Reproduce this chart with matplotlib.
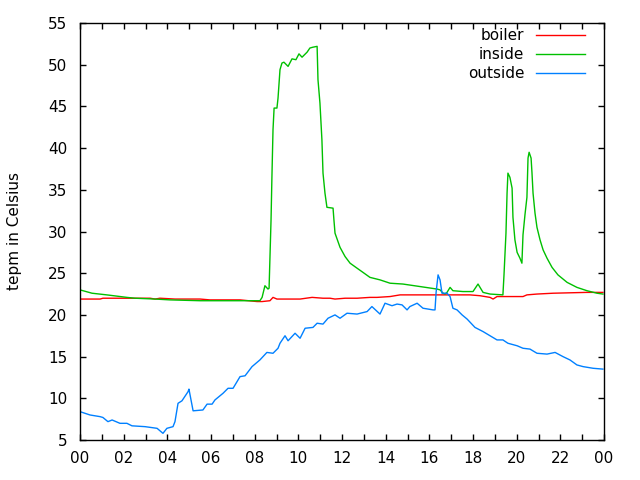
import matplotlib
matplotlib.use("Agg")
import matplotlib.pyplot as plt
from matplotlib.ticker import MultipleLocator

plt.rcParams['font.family'] = ['DejaVu Sans']

# time in hours of the day
outside_t = [0.00, 0.46, 0.92, 1.05, 1.28, 1.47, 1.83, 2.15, 2.38, 2.98, 3.53, 3.80, 3.98, 4.26, 4.35,
             4.49, 4.67, 4.95, 4.99, 5.18, 5.63, 5.82, 6.05, 6.18, 6.55, 6.78, 7.01, 7.33, 7.56, 7.88,
             8.24, 8.56, 8.84, 9.07, 9.16, 9.39, 9.53, 9.85, 10.08, 10.31, 10.67, 10.86, 11.13, 11.36,
             11.68, 11.91, 12.23, 12.69, 13.15, 13.37, 13.74, 13.97, 14.29, 14.52, 14.75, 14.98, 15.11,
             15.44, 15.71, 16.17, 16.26, 16.31, 16.40, 16.49, 16.58, 16.81, 16.95, 17.08, 17.27, 17.50,
             17.73, 18.09, 18.46, 18.78, 19.10, 19.37, 19.60, 20.02, 20.29, 20.61, 20.93, 21.39, 21.76,
             22.12, 22.44, 22.76, 23.04, 23.50, 23.95]
outside_v = [8.4, 8.0, 7.8, 7.7, 7.2, 7.4, 7.0, 7.0, 6.7, 6.6, 6.4, 5.8, 6.4, 6.6, 7.2,
             9.4, 9.7, 10.8, 11.1, 8.5, 8.6, 9.3, 9.3, 9.8, 10.6, 11.2, 11.2, 12.6, 12.7, 13.8,
             14.6, 15.5, 15.4, 16.0, 16.6, 17.5, 16.9, 17.8, 17.2, 18.4, 18.5, 19.0, 18.9, 19.6,
             20.0, 19.6, 20.2, 20.1, 20.4, 21.0, 20.1, 21.4, 21.1, 21.3, 21.2, 20.6, 21.0,
             21.4, 20.8, 20.6, 20.6, 22.7, 24.8, 24.2, 22.6, 22.6, 22.2, 20.8, 20.6, 20.0,
             19.5, 18.5, 18.0, 17.5, 17.0, 17.0, 16.6, 16.3, 16.0, 15.9, 15.4, 15.3, 15.5,
             15.0, 14.6, 14.0, 13.8, 13.6, 13.5]

inside_t = [0.00, 0.55, 1.23, 2.15, 2.52, 3.44, 4.12, 5.50, 8.24, 8.34, 8.47, 8.61, 8.66, 8.75, 8.79,
            8.84, 8.89, 9.02, 9.07, 9.16, 9.25, 9.34, 9.53, 9.71, 9.89, 10.03, 10.17, 10.40, 10.53,
            10.67, 10.86, 10.90, 10.99, 11.08, 11.13, 11.22, 11.31, 11.59, 11.63, 11.68, 11.91, 12.14,
            12.37, 12.69, 12.96, 13.28, 13.74, 14.20, 14.79, 15.57, 16.35, 16.49, 16.63, 16.72, 16.81,
            16.95, 17.08, 17.54, 18.00, 18.23, 18.46, 18.78, 19.37, 19.42, 19.51, 19.56, 19.60, 19.69,
            19.79, 19.83, 19.92, 20.02, 20.15, 20.24, 20.29, 20.38, 20.47, 20.52, 20.57, 20.66, 20.70,
            20.75, 20.84, 20.93, 21.07, 21.21, 21.39, 21.62, 21.89, 22.31, 22.76, 23.22, 23.68, 23.95]
inside_v = [23.0, 22.6, 22.4, 22.1, 22.0, 21.9, 21.8, 21.7, 21.7, 22.1, 23.5, 23.1, 23.2, 31.4, 36.5,
            42.2, 44.8, 44.8, 46.0, 49.4, 50.2, 50.3, 49.8, 50.7, 50.6, 51.3, 50.9, 51.5, 52.0,
            52.1, 52.2, 48.2, 45.4, 41.0, 37.0, 34.6, 32.9, 32.8, 31.4, 29.8, 28.1, 27.0,
            26.2, 25.6, 25.1, 24.5, 24.2, 23.8, 23.7, 23.4, 23.1, 23.0, 22.6, 22.5, 22.7,
            23.3, 22.9, 22.8, 22.8, 23.7, 22.7, 22.5, 22.4, 24.8, 29.8, 34.6, 37.0, 36.5,
            35.2, 31.7, 29.0, 27.5, 26.8, 26.2, 29.6, 32.0, 34.1, 38.8, 39.5, 38.8, 37.1,
            34.6, 32.2, 30.5, 29.0, 27.8, 26.8, 25.7, 24.8, 23.9, 23.3, 22.9, 22.6, 22.5]

boiler_t = [0.00, 0.92, 1.05, 3.21, 3.44, 3.66, 4.35, 5.50, 5.95, 7.33, 8.11, 8.34, 8.70, 8.84, 9.02,
            10.08, 10.63, 11.13, 11.45, 11.68, 12.14, 12.69, 13.28, 13.60, 14.20, 14.66, 15.57, 16.63,
            17.86, 18.32, 18.78, 18.92, 19.10, 19.83, 20.29, 20.47, 20.93, 21.67, 23.22, 23.95]
boiler_v = [21.9, 21.9, 22.0, 22.0, 21.9, 22.0, 21.9, 21.9, 21.8, 21.8, 21.6, 21.6, 21.7, 22.1, 21.9,
            21.9, 22.1, 22.0, 22.0, 21.9, 22.0, 22.0, 22.1, 22.1, 22.2, 22.4, 22.4, 22.4,
            22.4, 22.3, 22.1, 21.9, 22.2, 22.2, 22.2, 22.4, 22.5, 22.6, 22.7, 22.7]

xtick_pos = [0, 2, 4, 6, 8, 10, 12, 14, 16, 18, 20, 22, 24]
xtick_labels = ["00", "02", "04", "06", "08", "10", "12", "14", "16", "18", "20", "22", "00"]
ytick_pos = [5, 10, 15, 20, 25, 30, 35, 40, 45, 50, 55]

fig = plt.figure(figsize=(6.4, 4.8), dpi=100)
ax = fig.add_axes([80/640, 1-440/480, 524/640, 417/480])

ax.plot(boiler_t, boiler_v, color='#ff0000', lw=1.0, label='boiler')
ax.plot(inside_t, inside_v, color='#00c000', lw=1.0, label='inside')
ax.plot(outside_t, outside_v, color='#0080ff', lw=1.0, label='outside')

ax.set_xlim(0, 24)
ax.set_ylim(5, 55)
ax.set_xticks(xtick_pos)
ax.set_xticklabels(xtick_labels)
ax.xaxis.set_minor_locator(MultipleLocator(1))
ax.set_yticks(ytick_pos)
ax.tick_params(which='both', direction='in', top=True, right=True, length=4, width=1,
               labelsize=11, colors='black')
ax.tick_params(axis='x', pad=8)
ax.tick_params(axis='y', pad=9)
for s in ax.spines.values():
    s.set_linewidth(1.0)

ax.set_ylabel('tepm in Celsius', fontsize=11)
ax.yaxis.set_label_coords(-0.111, 0.5)

leg = ax.legend(loc='upper right', frameon=False, markerfirst=False, fontsize=11,
                handlelength=3.2, handletextpad=0.78, labelspacing=0.27, borderpad=0,
                borderaxespad=0, bbox_to_anchor=(0.9637, 0.988))
for t in leg.get_texts():
    t.set_ha('right')

fig.savefig('out.png', dpi=100)
